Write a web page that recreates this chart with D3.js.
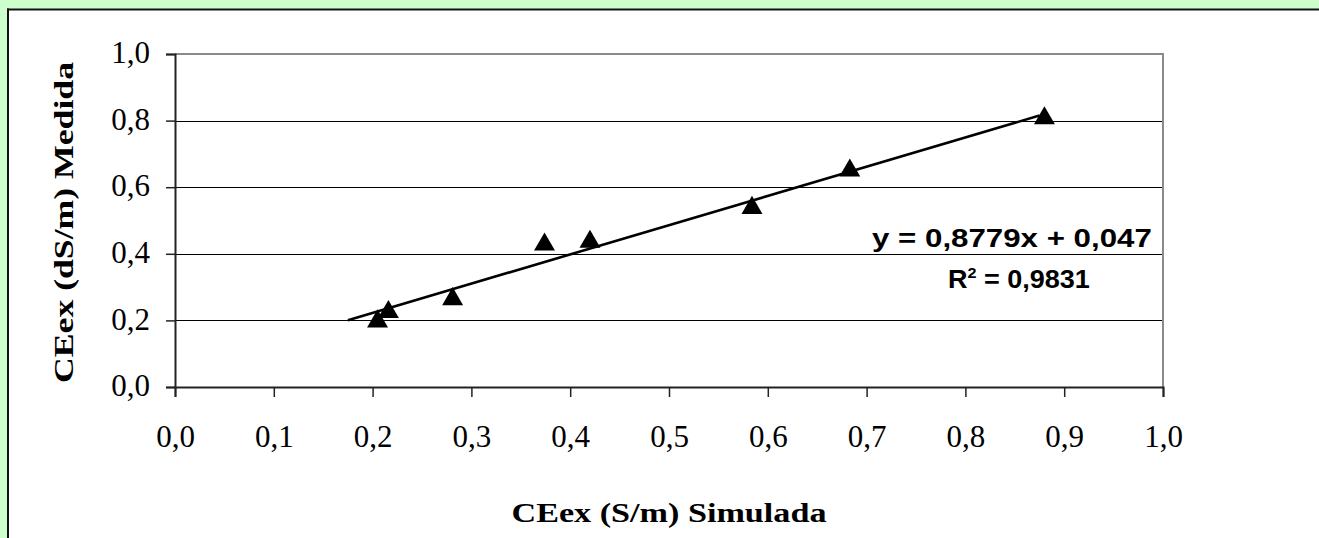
<!DOCTYPE html>
<html>
<head>
<meta charset="utf-8">
<script src="https://cdn.jsdelivr.net/npm/d3@7"></script>
<style>
  html, body { margin: 0; padding: 0; background: #fff; }
  svg { display: block; }
</style>
</head>
<body>
<script>
// ---- data ----
const simulada = [0.205, 0.216, 0.281, 0.374, 0.420, 0.584, 0.683, 0.880];
const medida   = [0.200, 0.228, 0.267, 0.431, 0.439, 0.541, 0.653, 0.810];
const xTicks = [0.0, 0.1, 0.2, 0.3, 0.4, 0.5, 0.6, 0.7, 0.8, 0.9, 1.0];
const yTicks = [0.0, 0.2, 0.4, 0.6, 0.8, 1.0];
const trendSlope = 0.8779, trendIntercept = 0.047, trendR2 = 0.9831;
const trendRange = [0.175, 0.875];
const xTitle = "CEex (S/m) Simulada";
const yTitle = "CEex (dS/m) Medida";

const W = 1319, H = 538;
const svg = d3.select("body").append("svg").attr("width", W).attr("height", H);

// frame: green strip top/left, black border
svg.append("rect").attr("x", 0).attr("y", 0).attr("width", W).attr("height", H).attr("fill", "#fff");
svg.append("rect").attr("x", 0).attr("y", 0).attr("width", W).attr("height", 9).attr("fill", "#CCFFCC");
svg.append("rect").attr("x", 0).attr("y", 0).attr("width", 7).attr("height", H).attr("fill", "#CCFFCC");
svg.append("rect").attr("x", 7).attr("y", 8.5).attr("width", W).attr("height", 2).attr("fill", "#111");
svg.append("rect").attr("x", 7).attr("y", 8.5).attr("width", 2).attr("height", H).attr("fill", "#111");

const L = 175, R = 1163, T = 54, B = 387;
const x = d3.scaleLinear().domain([0, 1]).range([L, R]);
const y = d3.scaleLinear().domain([0, 1]).range([B, T]);
const fmt = d => d3.format(".1f")(d).replace(".", ",");

// gridlines
svg.append("g").selectAll("line").data(yTicks.filter(d => d > 0 && d < 1)).join("line")
  .attr("x1", L).attr("x2", R)
  .attr("y1", d => Math.round(y(d)) + 0.5).attr("y2", d => Math.round(y(d)) + 0.5)
  .attr("stroke", "#000").attr("stroke-width", 1);

// plot border (top/right gray)
svg.append("line").attr("x1", L).attr("x2", R + 1).attr("y1", T).attr("y2", T)
  .attr("stroke", "#8a8a8a").attr("stroke-width", 2);
svg.append("line").attr("x1", R).attr("x2", R).attr("y1", T).attr("y2", B)
  .attr("stroke", "#8a8a8a").attr("stroke-width", 2);

// axes
const serif = "'Liberation Serif','Times New Roman',serif";
const xAxis = d3.axisBottom(x).tickValues(xTicks).tickFormat(fmt).tickSize(10).tickPadding(28);
const gx = svg.append("g").attr("transform", `translate(0,${B})`).call(xAxis);
gx.select(".domain").attr("stroke", "#222").attr("stroke-width", 2);
gx.selectAll(".tick line").attr("stroke", "#222").attr("stroke-width", 1.5);
gx.selectAll("text").attr("font-family", serif).attr("font-size", 31).attr("fill", "#000");

const yAxis = d3.axisLeft(y).tickValues(yTicks).tickFormat(fmt).tickSize(9).tickPadding(16);
const gy = svg.append("g").attr("transform", `translate(${L},0)`).call(yAxis);
gy.select(".domain").attr("stroke", "#222").attr("stroke-width", 2);
gy.selectAll(".tick line").attr("stroke", "#222").attr("stroke-width", 1.5);
gy.selectAll("text").attr("font-family", serif).attr("font-size", 31).attr("fill", "#000").attr("dy", "0.28em");

// trendline
const trendPts = trendRange.map(v => [v, trendSlope * v + trendIntercept]);
svg.append("path").datum(trendPts)
  .attr("d", d3.line().x(d => x(d[0])).y(d => y(d[1])))
  .attr("fill", "none").attr("stroke", "#000").attr("stroke-width", 2.6);

// markers
const tri = d3.symbol().type(d3.symbolTriangle).size(190);
svg.append("g").selectAll("path").data(simulada.map((v, i) => [v, medida[i]])).join("path")
  .attr("d", tri)
  .attr("transform", d => `translate(${x(d[0])},${y(d[1]) + 1})`)
  .attr("fill", "#000");

// equation labels, horizontally fitted to the reference widths
function stretched(x0, yb, width, build) {
  const g = svg.append("g");
  const t = g.append("text").attr("x", 0).attr("y", 0)
    .attr("font-family", "Arial,'Liberation Sans',sans-serif").attr("font-weight", "bold")
    .attr("font-size", 25).attr("fill", "#000");
  build(t);
  const w = t.node().getBBox().width;
  g.attr("transform", `translate(${x0},${yb}) scale(${width / w},1)`);
}
const c = v => String(v).replace(".", ",");
stretched(872, 247, 280, t => t.text(`y = ${c(trendSlope)}x + ${c(trendIntercept)}`));
stretched(948, 288, 142, t => {
  t.append("tspan").text("R");
  t.append("tspan").attr("font-size", 15).attr("dy", -10).text("2");
  t.append("tspan").attr("dy", 10).text(` = ${c(trendR2)}`);
});

// axis titles
svg.append("text").attr("x", (L + R) / 2).attr("y", 522).attr("text-anchor", "middle")
  .attr("font-family", serif).attr("font-weight", "bold")
  .attr("font-size", 28).attr("fill", "#000")
  .attr("textLength", 315).attr("lengthAdjust", "spacingAndGlyphs")
  .text(xTitle);

svg.append("text").attr("transform", `translate(73,${(T + B) / 2 + 2}) rotate(-90)`)
  .attr("text-anchor", "middle")
  .attr("font-family", serif).attr("font-weight", "bold")
  .attr("font-size", 28).attr("fill", "#000")
  .attr("textLength", 321).attr("lengthAdjust", "spacingAndGlyphs")
  .text(yTitle);
</script>
</body>
</html>
